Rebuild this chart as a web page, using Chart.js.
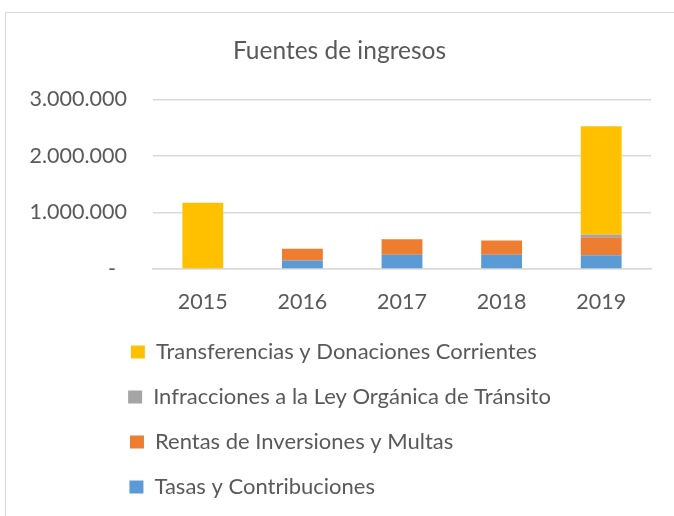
<!DOCTYPE html>
<html lang="es">
<head>
    <meta charset="UTF-8">
    <title>Fuentes de ingresos</title>
    <script src="https://cdn.jsdelivr.net/npm/chart.js"></script>
    <style>
        html, body {
            margin: 0;
            padding: 0;
            width: 100%;
            height: 100%;
            background-color: #ffffff;
            overflow: hidden;
        }
        #frame {
            position: absolute;
            left: 5px;
            top: 12px;
            width: 675px;
            height: 520px;
            border: 1px solid #d9d9d9;
        }
        #chartContainer {
            position: relative;
            width: 675px;
            height: 495px;
        }
    </style>
</head>
<body>
    <div id="frame">
        <div id="chartContainer">
            <canvas id="ingresosChart"></canvas>
        </div>
    </div>
    <script>
        const years = ['2015', '2016', '2017', '2018', '2019'];
        const tasas = [0, 150000, 250000, 250000, 245000];
        const rentas = [0, 210000, 275000, 255000, 315000];
        const infracciones = [0, 0, 0, 0, 50000];
        const transferencias = [1170000, 0, 0, 0, 1915000];
        const yTicks = [0, 1000000, 2000000, 3000000];

        const textColor = '#595959';
        const gridColor = '#d9d9d9';
        const fontFamily = 'Lato';
        const legendSize = 22;

        // pad legend texts to equal width so every entry sits on its own line, left-aligned
        function paddedLabels(chart) {
            const items = Chart.defaults.plugins.legend.labels.generateLabels(chart);
            const ctx = chart.ctx;
            ctx.save();
            ctx.font = 'normal ' + legendSize + 'px ' + fontFamily;
            const widest = Math.max(...items.map(i => ctx.measureText(i.text).width));
            items.forEach(i => {
                while (ctx.measureText(i.text + ' ').width <= widest) i.text += ' ';
            });
            ctx.restore();
            return items;
        }

        const ctx = document.getElementById('ingresosChart');
        new Chart(ctx, {
            type: 'bar',
            data: {
                labels: years,
                datasets: [
                    { label: 'Tasas y Contribuciones', data: tasas, backgroundColor: '#5b9bd5' },
                    { label: 'Rentas de Inversiones y Multas', data: rentas, backgroundColor: '#ed7d31' },
                    { label: 'Infracciones a la Ley Orgánica de Tránsito', data: infracciones, backgroundColor: '#a5a5a5' },
                    { label: 'Transferencias y Donaciones Corrientes', data: transferencias, backgroundColor: '#ffc000' }
                ]
            },
            options: {
                responsive: true,
                maintainAspectRatio: false,
                animation: false,
                categoryPercentage: 1,
                barPercentage: 0.41,
                layout: {
                    padding: { left: 22, right: 30, top: 0, bottom: 0 }
                },
                plugins: {
                    title: {
                        display: true,
                        text: 'Fuentes de ingresos',
                        color: textColor,
                        font: { family: fontFamily, size: 24.5, weight: 'normal' },
                        padding: { top: 23, bottom: 34 }
                    },
                    legend: {
                        position: 'bottom',
                        reverse: true,
                        labels: {
                            color: textColor,
                            font: { family: fontFamily, size: legendSize },
                            boxWidth: 14,
                            boxHeight: 13,
                            padding: 23,
                            generateLabels: paddedLabels
                        }
                    },
                    tooltip: { enabled: false }
                },
                scales: {
                    x: {
                        stacked: true,
                        grid: { display: false },
                        border: { color: gridColor, width: 1.5 },
                        ticks: {
                            color: textColor,
                            font: { family: fontFamily, size: 21.5 },
                            padding: 12
                        },
                        afterFit: s => { s.height = 49; }
                    },
                    y: {
                        stacked: true,
                        min: 0,
                        max: 3000000,
                        grid: { color: gridColor, lineWidth: 1.5, drawTicks: false },
                        border: { display: false },
                        afterBuildTicks: s => { s.ticks = yTicks.map(v => ({ value: v })); },
                        ticks: {
                            color: textColor,
                            font: { family: fontFamily, size: 21.5 },
                            padding: 26,
                            callback: v => v === 0 ? '-  ' : v.toLocaleString('de-DE')
                        },
                        afterFit: s => { s.width = 125; }
                    }
                }
            }
        });
    </script>
</body>
</html>
